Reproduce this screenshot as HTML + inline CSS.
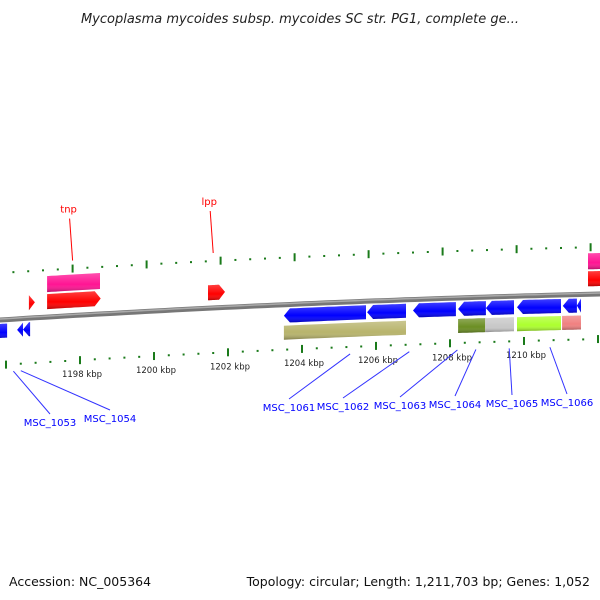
<!DOCTYPE html>
<html><head><meta charset="utf-8">
<style>
body{margin:0;background:#fff;}
svg{display:block;font-family:"DejaVu Sans","Liberation Sans",sans-serif;}
</style></head>
<body>
<svg id="map" width="600" height="600" viewBox="0 0 600 600">
<defs>
<linearGradient id="shade" x1="0" y1="0" x2="0" y2="1">
<stop offset="0" stop-color="#fff" stop-opacity="0.25"/><stop offset="0.6" stop-color="#fff" stop-opacity="0"/><stop offset="1" stop-color="#000" stop-opacity="0.3"/></linearGradient>
</defs>
<text x="300" y="23" text-anchor="middle" font-size="13" font-style="italic" fill="#222">Mycoplasma mycoides subsp. mycoides SC str. PG1, complete ge...</text>
<text x="9" y="586" font-size="12.5" fill="#111">Accession: NC_005364</text>
<text x="590" y="586" text-anchor="end" font-size="12.5" fill="#111">Topology: circular; Length: 1,211,703 bp; Genes: 1,052</text>
<g id="plot"></g>
</svg>
<script>
// data (kbp)
const tickStart = 1194.8, tickEnd = 1212.2, minorStep = 0.4, majorStep = 2;
const tickLabels = [1198, 1200, 1202, 1204, 1206, 1208, 1210];
const fwdStarts = [1197.11, 1196.62, 1201.46, 1211.73];
const fwdEnds   = [1198.54, 1196.78, 1201.92, 1212.3];
const fwdRow    = [1, 2, 2, 1];
const fwdShape  = ['box', 'arrow', 'arrow', 'box'];
const fwdColor  = ['#ff1493', '#ff0000', '#ff0000', '#ff1493'];
const fwdLabelTrack = [0, 1];
const extraFwd = [[1197.11, 1198.56, 2, 'arrow', '#ff0000'], [1211.73, 1212.3, 2, 'box', '#ff0000']];
const revStarts = [1195.4, 1196.30, 1196.46, 1203.51, 1205.76, 1207.0, 1208.22, 1208.97, 1209.81, 1211.05, 1211.43];
const revEnds   = [1196.03, 1196.46, 1196.65, 1205.73, 1206.81, 1208.16, 1208.97, 1209.73, 1211.0, 1211.43, 1211.54];
const boxStarts = [1203.51, 1208.22, 1208.95, 1209.81, 1211.03];
const boxEnds   = [1206.81, 1208.95, 1209.73, 1211.0, 1211.54];
const boxColors = ['#b8b46c', '#6b8e23', '#c8c8c8', '#adff2f', '#f08080'];
const topLabels = ['tnp', 'lpp'];
const topLabelPos = [1197.8, 1201.6];
const botLabels = ['MSC_1053', 'MSC_1054', 'MSC_1061', 'MSC_1062', 'MSC_1063', 'MSC_1064', 'MSC_1065', 'MSC_1066'];
const botLabelGene = [1196.2, 1196.4, 1205.3, 1206.9, 1208.2, 1208.7, 1209.6, 1210.7];
const botLabelX = [50, 110, 289, 343, 400, 455, 512, 567];

const NS = 'http://www.w3.org/2000/svg';
const g = document.getElementById('plot');
const X = k => 80 + (k - 1198) * 37;
const base = x => 320 - 0.0633 * x + 3.33e-5 * x * x;
const Y = (k, off) => base(X(k)) + off;
function mk(tag, attrs, parent) {
  const e = document.createElementNS(NS, tag);
  for (const a in attrs) e.setAttribute(a, attrs[a]);
  (parent || g).appendChild(e);
  return e;
}
function ribbon(k1, k2, o1, o2, dir, head) {
  // polygon following the curve; dir: 1 forward arrow right, -1 reverse arrow left, 0 box
  const n = 12, pts = [];
  const hk = head / 37;
  let a = k1, b = k2;
  if (dir === 1) b = Math.max(k1, k2 - hk);
  if (dir === -1) a = Math.min(k2, k1 + hk);
  const mid = (o1 + o2) / 2;
  for (let i = 0; i <= n; i++) { const k = a + (b - a) * i / n; pts.push([X(k), Y(k, o1)]); }
  if (dir === 1) pts.push([X(k2), Y(k2, mid)]);
  for (let i = n; i >= 0; i--) { const k = a + (b - a) * i / n; pts.push([X(k), Y(k, o2)]); }
  if (dir === -1) pts.push([X(k1), Y(k1, mid)]);
  return pts.map(p => p[0].toFixed(1) + ',' + p[1].toFixed(1)).join(' ');
}
// backbone
let d = '';
for (let x = -5; x <= 605; x += 10) d += (x < 0 ? 'M' : 'L') + x + ',' + base(x).toFixed(1);
let bb = mk('path', {d: d, fill: 'none', stroke: '#777', 'stroke-width': 5});


let bb2 = mk('path', {d: d, fill: 'none', stroke: '#aaa', 'stroke-width': 1.5, transform: 'translate(0,-1)'});


// rulers
for (let k = tickStart; k <= tickEnd + 1e-6; k += minorStep) {
  const kk = Math.round(k * 10) / 10;
  const major = Math.abs(kk / majorStep - Math.round(kk / majorStep)) < 1e-6;
  const len = major ? 8 : 2;
  [[-47, 'outer'], [45, 'inner']].forEach(([off, nm]) => {
    const kx = nm === 'outer' ? kk - 0.2 : kk;
    const x = X(kx), y = Y(kx, off);
    const t = mk('line', {x1: x, y1: y - len / 2, x2: x, y2: y + len / 2, stroke: '#1a7a1a', 'stroke-width': 2});
    
    
  });
}
tickLabels.forEach(k => {
  const t = mk('text', {x: X(k) + 2, y: Y(k, 62), 'text-anchor': 'middle', 'font-size': 8.5, fill: '#222'});
  t.textContent = k + ' kbp';
  
  
});
// forward genes
const rowOff = {1: [-41, -25], 2: [-23, -8]};
const fwdAll = fwdStarts.map((s, i) => [s, fwdEnds[i], fwdRow[i], fwdShape[i], fwdColor[i]]).concat(extraFwd);
fwdAll.forEach(([s, e, r, sh, c]) => {
  const [o1, o2] = rowOff[r];
  const pts = ribbon(s, e, o1, o2, sh === 'arrow' ? 1 : 0, 6);
  const p = mk('polygon', {points: pts, fill: c});
  
  
  const q = mk('polygon', {points: pts, fill: 'url(#shade)'});
  
  
});
// reverse genes
revStarts.forEach((s, i) => {
  const pts = ribbon(s, revEnds[i], 4, 18, -1, 6);
  const p = mk('polygon', {points: pts, fill: '#0000ff'});
  
  
  const q = mk('polygon', {points: pts, fill: 'url(#shade)'});
  
  
});
boxStarts.forEach((s, i) => {
  const pts = ribbon(s, boxEnds[i], 21, 35, 0, 0);
  const p = mk('polygon', {points: pts, fill: boxColors[i]});
  
  
  const q = mk('polygon', {points: pts, fill: 'url(#shade)'});
  
  
});
// top labels
topLabels.forEach((lab, i) => {
  const k = topLabelPos[i], x = X(k), y0 = Y(k, -55);
  const ty = y0 - 48;
  const l = mk('line', {x1: x, y1: y0, x2: x - 3, y2: ty + 6, stroke: '#ff0000', 'stroke-width': 1});
  
  
  const t = mk('text', {x: x - 4, y: ty, 'text-anchor': 'middle', 'font-size': 10, fill: '#ff0000'});
  t.textContent = lab;
  
  
});
// bottom labels
botLabels.forEach((lab, i) => {
  const k = botLabelGene[i], x = X(k), y0 = Y(k, 52);
  const ty = i < 2 ? 426 - i * 4 : 411 - (i - 2) * 1;
  const l = mk('line', {x1: x, y1: y0, x2: botLabelX[i], y2: ty - 12, stroke: '#3333ff', 'stroke-width': 1});
  
  
  const t = mk('text', {x: botLabelX[i], y: ty, 'text-anchor': 'middle', 'font-size': 10, fill: '#0000ff'});
  t.textContent = lab;
  
  
});
</script>
</body></html>
